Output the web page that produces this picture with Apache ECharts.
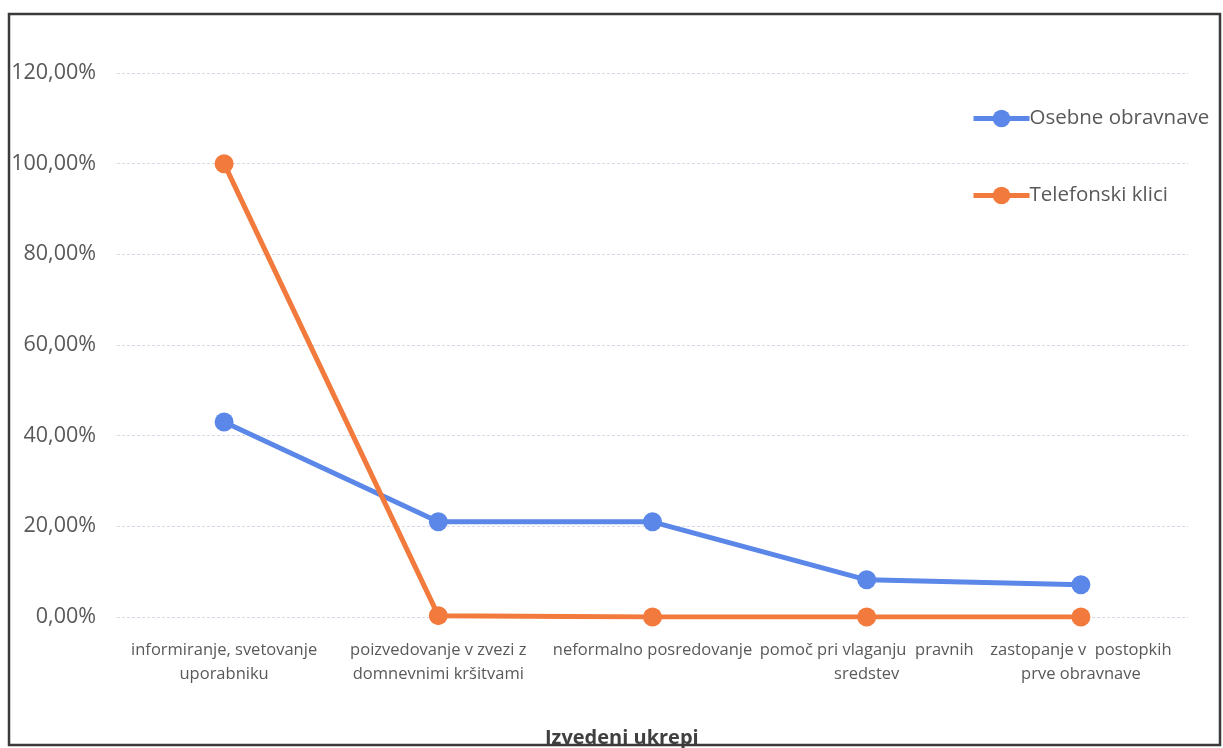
<!DOCTYPE html>
<html>
<head>
<meta charset="utf-8">
<script src="https://cdn.jsdelivr.net/npm/echarts@6/dist/echarts.min.js"></script>
<style>
html,body{margin:0;padding:0;background:#fff;}
#c{width:1223px;height:748px;}
</style>
</head>
<body>
<div id="c"></div>
<script>
const categories = [
  "informiranje, svetovanje\nuporabniku",
  "poizvedovanje v zvezi z\ndomnevnimi kršitvami",
  "neformalno posredovanje",
  "pomoč pri vlaganju  pravnih\nsredstev",
  "zastopanje v  postopkih\nprve obravnave"
];
const seriesNames = ["Osebne obravnave", "Telefonski klici"];
const osebne = [43.0, 21.0, 21.0, 8.2, 7.1];
const telefonski = [100.0, 0.3, 0.0, 0.0, 0.0];
const yTicks = [0, 20, 40, 60, 80, 100, 120];
const xTitle = "Izvedeni ukrepi";

const BLUE = "#5b87e8";
const ORANGE = "#f27a3c";
const FONT = "Open Sans";

const chart = echarts.init(document.getElementById('c'));
chart.setOption({
  backgroundColor: '#fff',
  animation: false,
  graphic: [{
    type: 'rect',
    shape: { x: 9, y: 14, width: 1211, height: 731 },
    style: { fill: 'none', stroke: '#3a3a3a', lineWidth: 2.5 },
    silent: true, z: 100
  }, {
    type: 'text',
    left: 545,
    top: 728,
    style: { text: xTitle, font: 'bold 20px "' + FONT + '"', fill: '#404040' }
  }],
  legend: {
    orient: 'vertical',
    left: 971,
    top: 108,
    padding: 0,
    itemWidth: 56,
    itemHeight: 22,
    itemGap: 56,
    lineStyle: { width: 5 },
    textStyle: { fontFamily: FONT, fontSize: 20.5, color: '#595959', padding: [4, 0, 0, -5] },
    data: seriesNames
  },
  grid: { left: 117, right: 35, top: 73, bottom: 131 },
  xAxis: {
    type: 'category',
    data: categories,
    boundaryGap: true,
    axisLine: { show: false },
    axisTick: { show: false },
    axisLabel: {
      interval: 0, margin: 21, lineHeight: 24,
      fontFamily: FONT, fontSize: 16.5, color: '#595959'
    }
  },
  yAxis: {
    type: 'value',
    min: yTicks[0], max: yTicks[yTicks.length - 1], interval: 20,
    axisLine: { show: false },
    axisTick: { show: false },
    splitLine: { lineStyle: { color: '#d8d8e6', type: [3, 2], width: 1 } },
    axisLabel: {
      margin: 21, fontFamily: FONT, fontSize: 21.5, color: '#595959',
      formatter: v => v.toFixed(2).replace('.', ',') + '%'
    }
  },
  series: [{
    name: seriesNames[0], type: 'line', data: osebne,
    symbol: 'circle', symbolSize: 19,
    lineStyle: { color: BLUE, width: 5 },
    itemStyle: { color: BLUE }
  }, {
    name: seriesNames[1], type: 'line', data: telefonski,
    symbol: 'circle', symbolSize: 19,
    lineStyle: { color: ORANGE, width: 5 },
    itemStyle: { color: ORANGE }
  }]
});
</script>
</body>
</html>
